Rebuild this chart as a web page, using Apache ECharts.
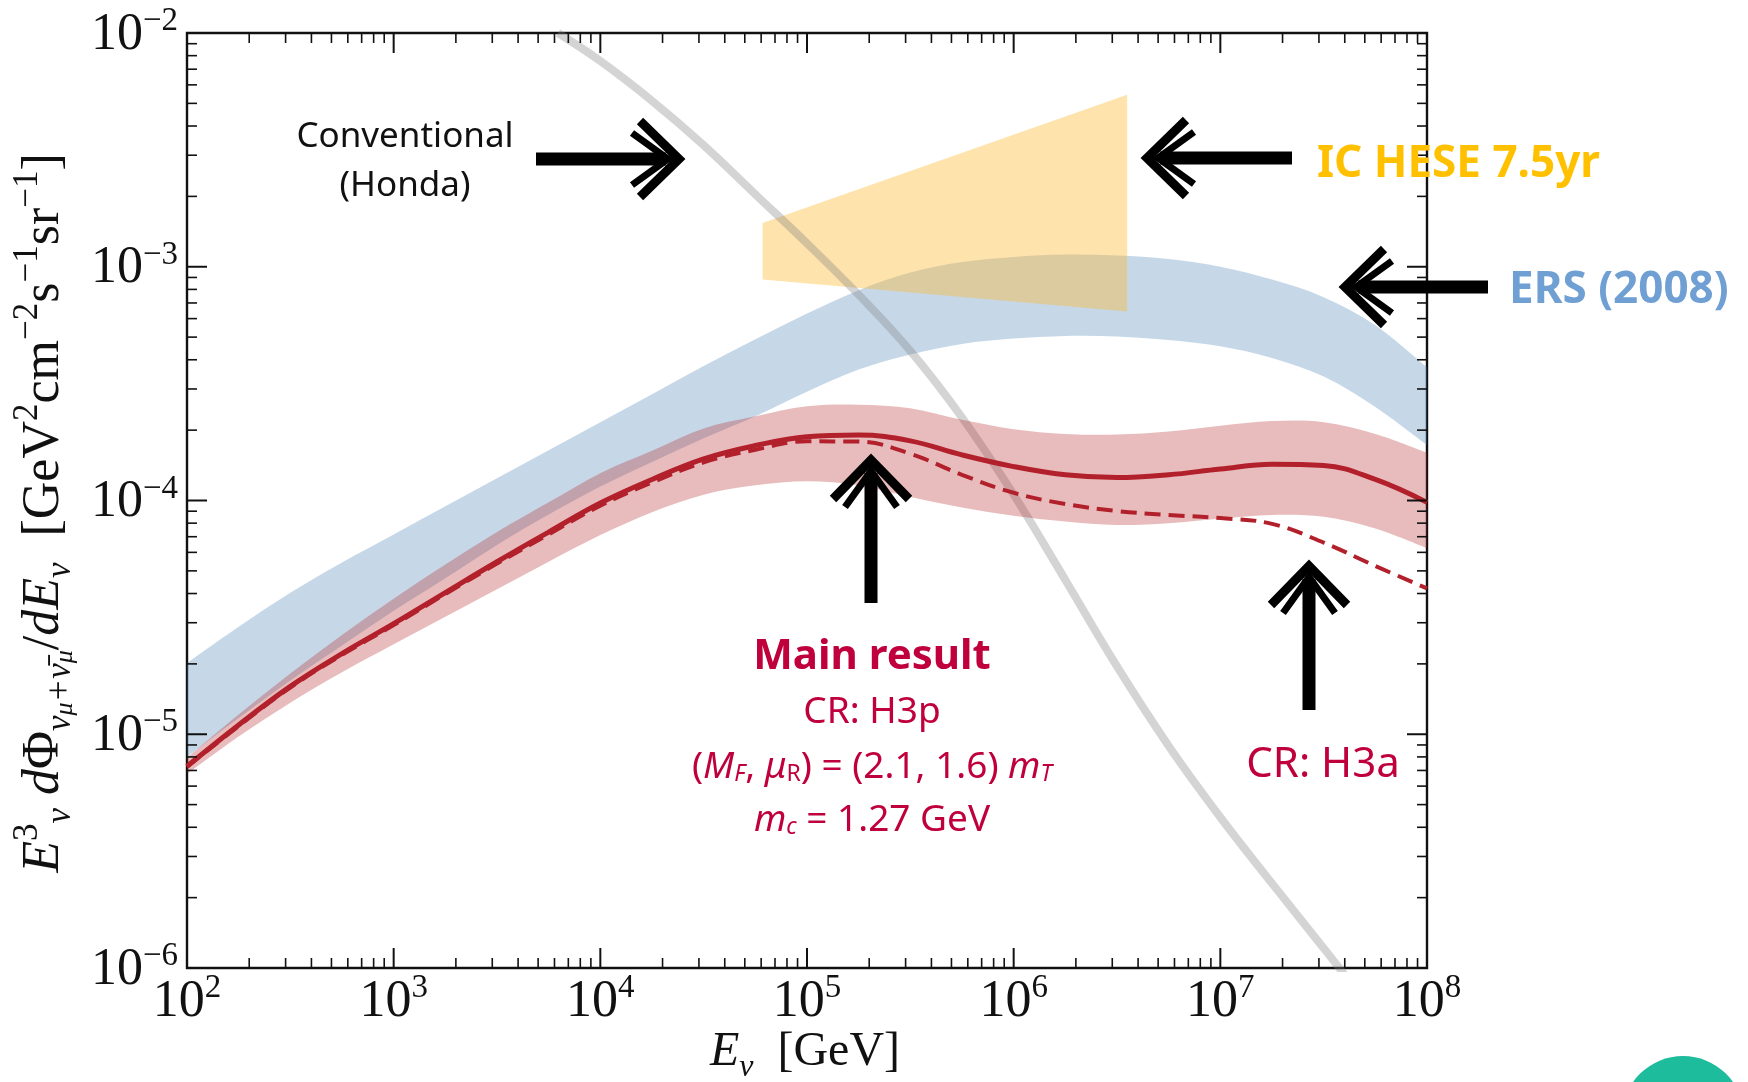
<!DOCTYPE html>
<html><head><meta charset="utf-8">
<script src="https://cdn.jsdelivr.net/npm/echarts@6/dist/echarts.min.js"></script>
<style>html,body{margin:0;padding:0;background:#fff}#c{width:1748px;height:1082px}</style>
</head><body><div id="c"></div>
<script>
// ---------- data (log10 of values) ----------
// energy grid, log10(E / GeV)
const gridLogE = [2,2.25,2.5,2.75,3,3.25,3.5,3.75,4,4.25,4.5,4.75,5,5.25,5.5,5.75,6,6.25,6.5,6.75,7,7.25,7.5,7.75,8];
// ERS (2008) band, log10 flux
const ersUpperLog = [-4.695,-4.54,-4.395,-4.265,-4.145,-4.025,-3.905,-3.785,-3.665,-3.545,-3.425,-3.31,-3.20,-3.10,-3.025,-2.98,-2.958,-2.948,-2.952,-2.967,-3.0,-3.055,-3.13,-3.25,-3.43];
const ersLowerLog = [-5.096,-4.93,-4.77,-4.62,-4.472,-4.333,-4.19,-4.06,-3.94,-3.835,-3.734,-3.64,-3.535,-3.44,-3.375,-3.33,-3.307,-3.296,-3.298,-3.313,-3.34,-3.39,-3.47,-3.60,-3.763];
// Main result (H3p) band and central line
const mainUpperLog = [-5.10,-4.915,-4.74,-4.575,-4.42,-4.274,-4.135,-4.008,-3.883,-3.787,-3.692,-3.64,-3.597,-3.59,-3.605,-3.655,-3.695,-3.715,-3.718,-3.705,-3.68,-3.66,-3.665,-3.715,-3.795];
const mainLowerLog = [-5.17,-5.01,-4.865,-4.735,-4.615,-4.497,-4.38,-4.262,-4.148,-4.05,-3.975,-3.935,-3.918,-3.935,-3.985,-4.03,-4.065,-4.09,-4.105,-4.097,-4.078,-4.062,-4.07,-4.12,-4.204];
const mainLineLog = [-5.137,-4.96,-4.795,-4.655,-4.527,-4.394,-4.262,-4.135,-4.011,-3.91,-3.822,-3.765,-3.727,-3.72,-3.745,-3.805,-3.855,-3.89,-3.902,-3.89,-3.865,-3.845,-3.85,-3.91,-4.008];
// CR: H3a (dashed)
const h3aLineLog = [-5.14,-4.965,-4.80,-4.66,-4.533,-4.40,-4.27,-4.145,-4.022,-3.923,-3.837,-3.783,-3.747,-3.748,-3.80,-3.89,-3.967,-4.015,-4.045,-4.062,-4.075,-4.10,-4.18,-4.28,-4.376];
// Conventional (Honda)
const convLogE = [3.795,4.0,4.25,4.5,4.75,5.0,5.25,5.5,5.75,6.0,6.25,6.5,6.75,7.0,7.25,7.5,7.62];
const convLog  = [-2.0,-2.12,-2.29,-2.48,-2.69,-2.90,-3.12,-3.36,-3.645,-3.975,-4.34,-4.71,-5.05,-5.355,-5.638,-5.915,-6.05];
// IC HESE 7.5yr
const heseLogE = [4.785, 6.549];
const heseUpperLog = [-2.813, -2.264];
const heseLowerLog = [-3.055, -3.191];
// axis ticks
const xMajorExp = [2,3,4,5,6,7,8];
const yMajorExp = [-6,-5,-4,-3,-2];
const minorMult = [2,3,4,5,6,7,8,9];

// ---------- helpers ----------
const p10 = v => Math.pow(10, v);
const pairs = (xs, ys) => xs.map((x, i) => [p10(x), p10(ys[i])]);
const SERIF = "'Liberation Serif','DejaVu Serif',serif";
const SANS = "'Noto Sans','Open Sans',sans-serif";
const RED = '#c0003c';

function spline(p) {
  let d = '';
  for (let i = 0; i < p.length - 1; i++) {
    const p0 = p[i - 1] || p[i], p1 = p[i], p2 = p[i + 1], p3 = p[i + 2] || p2;
    const c1 = [p1[0] + (p2[0] - p0[0]) / 6, p1[1] + (p2[1] - p0[1]) / 6];
    const c2 = [p2[0] - (p3[0] - p1[0]) / 6, p2[1] - (p3[1] - p1[1]) / 6];
    d += ' C' + c1[0] + ',' + c1[1] + ' ' + c2[0] + ',' + c2[1] + ' ' + p2[0] + ',' + p2[1];
  }
  return d;
}
function bandSeries(xsLog, upLog, loLog, fill, smooth) {
  return {
    type: 'custom', coordinateSystem: 'cartesian2d', silent: true, clip: true,
    data: [[p10(xsLog[0]), p10(upLog[0])]],
    renderItem: (params, api) => {
      const P = xsLog.map((x, i) => api.coord([p10(x), p10(upLog[i])]));
      const Q = xsLog.map((x, i) => api.coord([p10(x), p10(loLog[i])])).reverse();
      let d;
      if (smooth) d = 'M' + P[0] + spline(P) + ' L' + Q[0] + spline(Q) + ' Z';
      else d = 'M' + P.concat(Q).map(q => q.join(',')).join(' L') + ' Z';
      return { type: 'path', shape: { pathData: d }, style: { fill: fill, stroke: null } };
    }
  };
}
const xTicks = [], yTicks = [];
xMajorExp.forEach((e, i) => {
  xTicks.push([p10(e), 1e-6, 1]);
  if (i < xMajorExp.length - 1) minorMult.forEach(m => xTicks.push([m * p10(e), 1e-6, 0]));
});
yMajorExp.forEach((e, i) => {
  yTicks.push([100, p10(e), 1]);
  if (i < yMajorExp.length - 1) minorMult.forEach(m => yTicks.push([100, m * p10(e), 0]));
});
function tickSeries(data, horizontal) {
  return {
    type: 'custom', coordinateSystem: 'cartesian2d', silent: true, clip: false, z: 10,
    data: data,
    renderItem: (params, api) => {
      const cs = params.coordSys;
      const pt = api.coord([api.value(0), api.value(1)]);
      const major = api.value(2) === 1;
      const len = major ? 20 : 10;
      const st = { stroke: '#111', lineWidth: major ? 2 : 1.6 };
      if (horizontal) {
        return { type: 'group', children: [
          { type: 'line', shape: { x1: pt[0], y1: cs.y + cs.height, x2: pt[0], y2: cs.y + cs.height - len }, style: st },
          { type: 'line', shape: { x1: pt[0], y1: cs.y, x2: pt[0], y2: cs.y + len }, style: st }
        ]};
      }
      return { type: 'group', children: [
        { type: 'line', shape: { x1: cs.x, y1: pt[1], x2: cs.x + len, y2: pt[1] }, style: st },
        { type: 'line', shape: { x1: cs.x + cs.width, y1: pt[1], x2: cs.x + cs.width - len, y2: pt[1] }, style: st }
      ]};
    }
  };
}
const tickRich = {
  b: { fontFamily: SERIF, fontSize: 52, lineHeight: 56, verticalAlign: 'bottom', color: '#111' },
  s: { fontFamily: SERIF, fontSize: 33, lineHeight: 33, verticalAlign: 'top', color: '#111' }
};
const expLabel = v => '{b|10}{s|' + String(Math.round(Math.log10(v))).replace('-', '\u2212') + '}';

// ---------- annotation graphics ----------
function arrow(tip, dir, tail) {
  const per = [-dir[1], dir[0]];
  const pt = (a, w) => [tip[0] - dir[0] * a + per[0] * w, tip[1] - dir[1] * a + per[1] * w];
  const st = w => ({ stroke: '#000', lineWidth: w, fill: null, lineJoin: 'miter', lineCap: 'butt' });
  const innerTip = pt(17, 0);
  return [
    { type: 'polyline', z: 50, shape: { points: [pt(45, 38), pt(6, 0), pt(45, -38)] }, style: st(9) },
    { type: 'polyline', z: 50, shape: { points: [pt(53, 26), innerTip, pt(53, -26)] }, style: st(7) },
    { type: 'line', z: 50, shape: { x1: innerTip[0] - dir[0] * 2, y1: innerTip[1] - dir[1] * 2, x2: tail[0], y2: tail[1] }, style: st(13) }
  ];
}
function txt(x, y, text, rich, extra, align) {
  const a = align || 'center';
  return Object.assign({ type: 'text', z: 60, x: x, y: y,
    style: { text: text, rich: rich, align: a, verticalAlign: 'middle', textAlign: a, textVerticalAlign: 'middle' } }, extra || {});
}
const sansTok = (size, color, weight, style, lh, va) => ({ fontFamily: SANS, fontSize: size, fill: color, color: color,
  fontWeight: weight || 'normal', fontStyle: style || 'normal', lineHeight: lh || size * 1.3, verticalAlign: va || 'bottom' });
const serifTok = (size, style, lh, va) => ({ fontFamily: SERIF, fontSize: size, fill: '#111', color: '#111',
  fontStyle: style || 'normal', lineHeight: lh, verticalAlign: va });

const annRich = {
  k: sansTok(35, '#111'),
  hese: sansTok(44, '#ffc000', 'bold'),
  ers: sansTok(44, '#6f9fd3', 'bold'),
  mr: sansTok(42, RED, 'bold'),
  r: sansTok(37, RED, 'normal', 'normal', 48),
  i: sansTok(37, RED, 'normal', 'italic', 48),
  sr: sansTok(23, RED, 'normal', 'normal', 24),
  si: sansTok(23, RED, 'normal', 'italic', 24),
  h3a: sansTok(42, RED)
};
const nameRich = {
  it: serifTok(48, 'italic', 64, 'middle'),
  rm: serifTok(48, 'normal', 64, 'middle'),
  sup: serifTok(32, 'normal', 32, 'top'),
  sub: serifTok(32, 'italic', 44, 'bottom'),
  ss: serifTok(24, 'italic', 24, 'bottom')
};
const yNameRich = {
  it: serifTok(52, 'italic', 68, 'middle'),
  rm: serifTok(52, 'normal', 68, 'middle'),
  sup: serifTok(35, 'normal', 35, 'top'),
  sub: serifTok(35, 'italic', 48, 'bottom'),
  ss: serifTok(26, 'italic', 26, 'bottom')
};

const graphics = [].concat(
  arrow([685, 159], [1, 0], [536, 159]),
  arrow([1141, 158], [-1, 0], [1292, 158]),
  arrow([1339, 287], [-1, 0], [1488, 287]),
  arrow([871, 454], [0, -1], [871, 603]),
  arrow([1309, 560], [0, -1], [1309, 710]),
  [
    txt(405, 132, '{k|Conventional}', annRich),
    txt(405, 181, '{k|(Honda)}', annRich),
    txt(1317, 158, '{hese|IC HESE 7.5yr}', annRich, null, 'left'),
    txt(1509, 284, '{ers|ERS (2008)}', annRich, null, 'left'),
    txt(872, 651, '{mr|Main result}', annRich),
    txt(872, 707, '{r|CR: H3p}', annRich),
    txt(872, 762, '{r|(}{i|M}{si|F}{r|, }{i|\u03bc}{sr|R}{r|) = (2.1, 1.6) }{i|m}{si|T}', annRich),
    txt(872, 815, '{i|m}{si|c}{r| = 1.27 GeV}', annRich),
    txt(1323, 759, '{h3a|CR: H3a}', annRich),
    txt(805, 1052, '{it|E}{sub|\u03bd}{rm|  [GeV]}', nameRich),
    txt(44, 513, '{it|E}{sup|3}{sub|\u03bd}{rm| }{it|d}{rm|\u03a6}{sub|\u03bd}{ss|\u03bc}{sub|+\u03bd\u0304}{ss|\u03bc}{rm|/}{it|dE}{sub|\u03bd}{rm|  [GeV}{sup|2}{rm|cm}{sup|\u22122}{rm|s}{sup|\u22121}{rm|sr}{sup|\u22121}{rm|]}', yNameRich, { rotation: Math.PI / 2 }),
    { type: 'circle', z: 60, shape: { cx: 1683, cy: 1117, r: 61 }, style: { fill: '#1dbc9c' } }
  ]
);

const chart = echarts.init(document.getElementById('c'), null, { renderer: 'canvas' });
chart.setOption({
  animation: false,
  backgroundColor: '#fff',
  grid: { left: 187, right: 321, top: 33, bottom: 114, show: true, borderColor: '#111', borderWidth: 2.4,
          backgroundColor: 'transparent', containLabel: false, outerBoundsMode: 'none' },
  xAxis: {
    type: 'log', logBase: 10, min: 100, max: 1e8,
    axisLine: { show: false }, axisTick: { show: false }, splitLine: { show: false }, minorTick: { show: false },
    axisLabel: { margin: 4, formatter: expLabel, rich: tickRich }
  },
  yAxis: {
    type: 'log', logBase: 10, min: 1e-6, max: 1e-2,
    axisLine: { show: false }, axisTick: { show: false }, splitLine: { show: false }, minorTick: { show: false },
    axisLabel: { margin: 9, formatter: expLabel, rich: tickRich }
  },
  series: [
    Object.assign(bandSeries(gridLogE, ersUpperLog, ersLowerLog, 'rgba(70,130,180,0.31)', true), { name: 'ERS (2008)', z: 2 }),
    Object.assign(bandSeries(heseLogE, heseUpperLog, heseLowerLog, 'rgba(253,185,47,0.40)', false), { name: 'IC HESE 7.5yr', z: 3 }),
    { name: 'Conventional (Honda)', type: 'line', data: pairs(convLogE, convLog), smooth: 0.4, showSymbol: false, silent: true, clip: true, z: 4,
      lineStyle: { color: 'rgba(128,128,128,0.34)', width: 8 } },
    Object.assign(bandSeries(gridLogE, mainUpperLog, mainLowerLog, 'rgba(178,34,34,0.30)', true), { name: 'Main band', z: 5 }),
    { name: 'CR: H3a', type: 'line', data: pairs(gridLogE, h3aLineLog), smooth: 0.4, showSymbol: false, silent: true, z: 6,
      lineStyle: { color: '#b2212b', width: 4, type: [16, 8] } },
    { name: 'Main result', type: 'line', data: pairs(gridLogE, mainLineLog), smooth: 0.4, showSymbol: false, silent: true, z: 7,
      lineStyle: { color: '#b2212b', width: 5 } },
    tickSeries(xTicks, true),
    tickSeries(yTicks, false)
  ],
  graphic: { elements: graphics }
});
</script></body></html>
